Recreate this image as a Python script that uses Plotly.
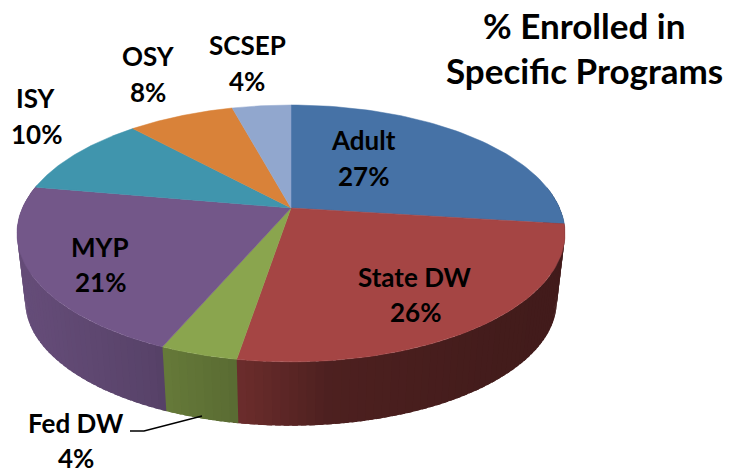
import numpy as np
import plotly.graph_objects as go

# --- data (slice sizes estimated from the wedges, labels show them rounded) ---
programs = ["Adult", "State DW", "Fed DW", "MYP", "ISY", "OSY", "SCSEP"]
percents = [27.0, 25.6, 3.8, 21.4, 10.4, 7.6, 4.2]
title_lines = ["% Enrolled in", "Specific Programs"]

# --- styling ---
top_colors = ["#4672a6", "#a54544", "#8aa54e", "#735789", "#4095ad", "#d98239", "#91a7ce"]
label_xy = [(363, 140, 176), (415, 277, 312), (76, 423, 458), (100, 247, 282),
            (36, 98, 134), (148, 56, 92), (247, 45, 81)]
FONT = "Lato, Carlito, 'Open Sans', sans-serif"
LABEL_SIZE = 26

# projection of the tilted disc onto the page
CX, CY, A, B, K = 291.0, 208.0, 268.6, 123.4, 0.198
SHRINK, VY = 0.97, 2490.0


def top_point(theta, r=1.0):
    X, Y = r * np.sin(theta), r * np.cos(theta)
    w = 1 + K * Y
    return CX + A * X / w, CY - B * Y / w


def bottom_point(theta):
    x, y = top_point(theta)
    return CX + SHRINK * (x - CX), VY + SHRINK * (y - VY)


def rgb(hexcol, f):
    r, g, b = (int(hexcol[i:i + 2], 16) for i in (1, 3, 5))
    return f"rgb({int(r * f)},{int(g * f)},{int(b * f)})"


def shade(x):
    return float(np.interp(x, [20, 40, 150, 170, 240, 330, 500, 570],
                           [0.88, 0.87, 0.77, 0.73, 0.65, 0.47, 0.41, 0.40]))


fig = go.Figure()
edges = 2 * np.pi * np.cumsum([0] + percents) / sum(percents)

# sides (front half only; the top face covers the rest)
# strips overlap the next one, painted in order, so no seams show
lo, hi = np.radians(80), np.radians(280)
for i, col in enumerate(top_colors):
    a0, a1 = max(edges[i], lo), min(edges[i + 1], hi)
    if a1 <= a0:
        continue
    n = max(2, int(np.degrees(a1 - a0) / 1.5))
    ts = np.linspace(a0, a1, n + 1)
    for t0, t1 in zip(ts[:-1], ts[1:]):
        te = t1 + np.radians(1.0)
        x0, y0 = top_point(t0)
        x1, y1 = top_point(te)
        x2, y2 = bottom_point(te)
        x3, y3 = bottom_point(t0)
        c = rgb(col, shade((x0 + top_point(t1)[0]) / 2))
        fig.add_trace(go.Scatter(x=[x0, x1, x2, x3, x0], y=[y0, y1, y2, y3, y0],
                                 mode="none", fill="toself", fillcolor=c,
                                 hoverinfo="skip"))

# top face
for i, col in enumerate(top_colors):
    ts = np.linspace(edges[i], edges[i + 1], 60)
    xs, ys = top_point(ts)
    fig.add_trace(go.Scatter(x=[CX, *xs, CX], y=[CY, *ys, CY], mode="lines",
                             fill="toself", fillcolor=col,
                             line=dict(color=col, width=0.5), hoverinfo="skip"))

# leader line of Fed DW
fig.add_trace(go.Scatter(x=[130, 144, 202], y=[431, 431, 416], mode="lines",
                         line=dict(color="black", width=1.3), hoverinfo="skip"))

ann = []
for name, pct, (x, y1, y2) in zip(programs, percents, label_xy):
    for txt, y in ((name, y1), (f"{round(pct)}%", y2)):
        ann.append(dict(x=x, y=y, text=f"<b>{txt}</b>", showarrow=False,
                        xanchor="center", yanchor="middle",
                        font=dict(family=FONT, size=LABEL_SIZE, color="black")))
for txt, y in zip(title_lines, (25, 70)):
    ann.append(dict(x=584, y=y, text=f"<b>{txt}</b>", showarrow=False,
                    xanchor="center", yanchor="middle",
                    font=dict(family=FONT, size=35, color="black")))

fig.update_layout(
    width=738, height=470, margin=dict(l=0, r=0, t=0, b=0),
    paper_bgcolor="white", plot_bgcolor="white", showlegend=False,
    xaxis=dict(range=[0, 738], visible=False, fixedrange=True),
    yaxis=dict(range=[470, 0], visible=False, fixedrange=True),
    annotations=ann,
)
fig.write_html("out.html", config={"displayModeBar": False},
               post_script="document.body.style.margin='0';document.body.style.overflow='hidden';")
